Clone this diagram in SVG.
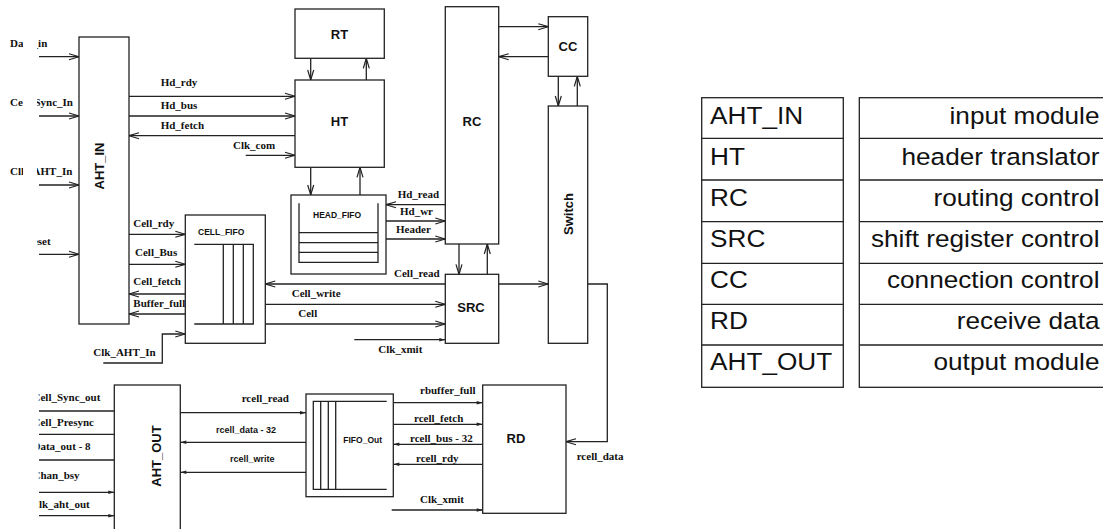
<svg xmlns="http://www.w3.org/2000/svg" width="1103" height="529" viewBox="0 0 1103 529">
<style>
.box{fill:#fff;stroke:#222;stroke-width:1.3}
.ln{fill:none;stroke:#222;stroke-width:1.3}
.oa{marker-end:url(#oa)}
.fa{marker-end:url(#fa)}
.t{font-family:"Liberation Serif","Times New Roman",serif;font-weight:bold;font-size:11px;fill:#111}
.n{font-family:"Liberation Sans",Arial,sans-serif;font-weight:bold;font-size:13px;fill:#111;text-anchor:middle}
.s{font-family:"Liberation Sans",Arial,sans-serif;font-weight:bold;font-size:8.5px;fill:#111}
.s9{font-family:"Liberation Sans",Arial,sans-serif;font-weight:bold;font-size:9px;fill:#111}
.tb{font-family:"Liberation Sans",Arial,sans-serif;font-size:23.3px;fill:#111}
.tr{text-anchor:end}
</style>
<defs>
<marker id="oa" markerUnits="userSpaceOnUse" markerWidth="13" markerHeight="9" refX="11.5" refY="4.5" orient="auto">
<path d="M1.5,1.5 L11.5,4.5 L1.5,7.5" fill="none" stroke="#222" stroke-width="1.2"/>
</marker>
<marker id="fa" markerUnits="userSpaceOnUse" markerWidth="8" markerHeight="6" refX="6.5" refY="3" orient="auto">
<path d="M0.5,1.2 L6.5,3 L0.5,4.8 Z" fill="#222"/>
</marker>
<clipPath id="lc">
<rect x="0" y="0" width="23" height="300"/>
<rect x="37" y="0" width="60" height="300"/>
<rect x="38.5" y="380" width="80" height="149"/>
</clipPath>
</defs>
<rect width="1103" height="529" fill="#fff"/>

<g id="connectors">
<path class="ln oa" d="M39,56.7 H79"/>
<path class="ln oa" d="M39,116 H79"/>
<path class="ln oa" d="M39,185 H79"/>
<path class="ln oa" d="M39,254.3 H79"/>
<path class="ln oa" d="M129,96.3 H295"/>
<path class="ln oa" d="M129,116 H295"/>
<path class="ln oa" d="M295,135.7 H129"/>
<path class="ln oa" d="M245.7,155.3 H295"/>
<path class="ln oa" d="M310.7,58.3 V80"/>
<path class="ln oa" d="M366.3,80 V58.3"/>
<path class="ln oa" d="M310.7,167.3 V195"/>
<path class="ln oa" d="M360,195 V167.3"/>
<path class="ln oa" d="M498.7,26.7 H548.3"/>
<path class="ln oa" d="M548.3,56.7 H498.7"/>
<path class="ln oa" d="M558.3,76.3 V106"/>
<path class="ln oa" d="M577.3,106 V76.3"/>
<path class="ln oa" d="M445.3,204.7 H386"/>
<path class="ln oa" d="M386,221 H445.3"/>
<path class="ln oa" d="M386,239 H445.3"/>
<path class="ln oa" d="M459,244 V274.3"/>
<path class="ln oa" d="M487.3,274.3 V244"/>
<path class="ln oa" d="M498.7,284 H548.3"/>
<path class="ln oa" d="M445.3,284 H265.3"/>
<path class="ln oa" d="M265.3,304.3 H445.3"/>
<path class="ln oa" d="M265.3,324 H445.3"/>
<path class="ln fa" d="M354.3,339.7 H445.3"/>
<path class="ln oa" d="M129,234.3 H185.3"/>
<path class="ln oa" d="M129,264.3 H185.3"/>
<path class="ln oa" d="M185.3,294 H129"/>
<path class="ln oa" d="M185.3,314 H129"/>
<path class="ln oa" d="M103.3,363 H162.3 V334 H185.3"/>
<path class="ln oa" d="M587.7,284 H607.3 V441.7 H566"/>
<path class="ln fa" d="M393.3,402.7 H482.7"/>
<path class="ln fa" d="M393.3,424.3 H482.7"/>
<path class="ln fa" d="M482.7,444.3 H393.3"/>
<path class="ln fa" d="M482.7,464.3 H393.3"/>
<path class="ln fa" d="M391.7,510 H482.7"/>
<path class="ln fa" d="M180.3,412.7 H306"/>
<path class="ln fa" d="M306,442.3 H180.3"/>
<path class="ln fa" d="M306,472.3 H180.3"/>
<path class="ln" d="M39,411 H114.3"/>
<path class="ln" d="M39,434.3 H114.3"/>
<path class="ln" d="M39,460 H114.3"/>
<path class="ln fa" d="M39,492.3 H114.3"/>
<path class="ln fa" d="M39,515.7 H114.3"/>

<g id="io-labels" clip-path="url(#lc)">
<text class="t" x="10" y="46.7">Data_in</text>
<text class="t" x="10" y="106">Cell_Sync_In</text>
<text class="t" x="10" y="175">Clk_AHT_In</text>
<text class="t" x="25" y="245">Reset</text>
<text class="t" x="32.5" y="400.7">Cell_Sync_out</text>
<text class="t" x="32.5" y="426">Cell_Presync</text>
<text class="t" x="32.5" y="450">Data_out - 8</text>
<text class="t" x="32.5" y="479.3">Chan_bsy</text>
<text class="t" x="31" y="508.3">Clk_aht_out</text>
</g>
<text class="t" x="160.7" y="85.7">Hd_rdy</text>
<text class="t" x="160.7" y="109.3">Hd_bus</text>
<text class="t" x="160.7" y="129.3">Hd_fetch</text>
<text class="t" x="233" y="149.3">Clk_com</text>
<text class="t" x="397.7" y="198.3">Hd_read</text>
<text class="t" x="400" y="215">Hd_wr</text>
<text class="t" x="396" y="233.3">Header</text>
<text class="t" x="394" y="277.3">Cell_read</text>
<text class="t" x="291.7" y="297.3">Cell_write</text>
<text class="t" x="298.3" y="317.3">Cell</text>
<text class="t" x="378.3" y="353.3">Clk_xmit</text>
<text class="t" x="133.3" y="226.7">Cell_rdy</text>
<text class="t" x="135" y="256">Cell_Bus</text>
<text class="t" x="133.3" y="285">Cell_fetch</text>
<text class="t" x="133.3" y="307.3">Buffer_full</text>
<text class="t" x="93.3" y="355.7">Clk_AHT_In</text>
<text class="t" x="420" y="394">rbuffer_full</text>
<text class="t" x="414" y="421.5">rcell_fetch</text>
<text class="t" x="410" y="442">rcell_bus - 32</text>
<text class="t" x="416" y="462">rcell_rdy</text>
<text class="t" x="420" y="503.3">Clk_xmit</text>
<text class="t" x="576.7" y="460">rcell_data</text>
<text class="t" x="241.7" y="402.3">rcell_read</text>
<text class="s9" x="216" y="432.7">rcell_data - 32</text>
<text class="s9" x="230" y="461.7">rcell_write</text>
</g>

<g id="AHT_IN">
<rect class="box" x="79" y="37" width="50" height="287"/>
<text class="n" transform="translate(104,166) rotate(-90)">AHT_IN</text>
</g>
<g id="RT">
<rect class="box" x="295" y="9" width="89.3" height="49.3"/>
<text class="n" x="339.5" y="39.3">RT</text>
</g>
<g id="HT">
<rect class="box" x="295" y="80" width="89.3" height="87.3"/>
<text class="n" x="339.5" y="126">HT</text>
</g>
<g id="RC">
<rect class="box" x="445.3" y="6.7" width="53.4" height="237.3"/>
<text class="n" x="472" y="126">RC</text>
</g>
<g id="CC">
<rect class="box" x="548.3" y="16.7" width="39.4" height="59.6"/>
<text class="n" x="568" y="51">CC</text>
</g>
<g id="Switch">
<rect class="box" x="548.3" y="106" width="39.4" height="237.3"/>
<text class="n" transform="translate(573,214) rotate(-90)">Switch</text>
</g>
<g id="HEAD_FIFO">
<rect class="box" x="291" y="195" width="95" height="79"/>
<path class="ln" d="M299,203.3 V262.3 H378 V203.3 M299,232.7 H378 M299,242.7 H378 M299,252.3 H378"/>
<text class="s" x="313" y="218.3">HEAD_FIFO</text>
</g>
<g id="SRC">
<rect class="box" x="445.3" y="274.3" width="53.4" height="69"/>
<text class="n" x="471" y="311.7">SRC</text>
</g>
<g id="CELL_FIFO">
<rect class="box" x="185.3" y="215" width="80" height="128.3"/>
<path class="ln" d="M194.3,244.3 H253.3 V324 H194.3 M223.3,244.3 V324 M233.3,244.3 V324 M243.3,244.3 V324"/>
<text class="s" x="198" y="235">CELL_FIFO</text>
</g>
<g id="AHT_OUT">
<rect class="box" x="114.3" y="385" width="66" height="150"/>
<text class="n" transform="translate(161,456) rotate(-90)">AHT_OUT</text>
</g>
<g id="FIFO_Out">
<rect class="box" x="306" y="394" width="87.3" height="102.7"/>
<path class="ln" d="M386.7,401.3 H313.3 V489.3 H386.7 M320.7,401.3 V489.3 M328.3,401.3 V489.3 M335.7,401.3 V489.3"/>
<text class="s" x="343.3" y="442.7">FIFO_Out</text>
</g>
<g id="RD">
<rect class="box" x="482.7" y="385" width="83.3" height="128.3"/>
<text class="n" x="516" y="443.3">RD</text>
</g>

<g id="legend">
<rect class="box" x="701.7" y="97.7" width="141.6" height="289.6"/>
<rect class="box" x="859.3" y="97.7" width="260" height="289.6"/>
<path class="ln" d="M701.7,138.3 H843.3 M701.7,180 H843.3 M701.7,221.7 H843.3 M701.7,263.3 H843.3 M701.7,304.3 H843.3 M701.7,345 H843.3"/>
<path class="ln" d="M859.3,138.3 H1110 M859.3,180 H1110 M859.3,221.7 H1110 M859.3,263.3 H1110 M859.3,304.3 H1110 M859.3,345 H1110"/>
<text class="tb" transform="translate(710,124.3) scale(1.125,1)">AHT_IN</text>
<text class="tb" transform="translate(710,165) scale(1.125,1)">HT</text>
<text class="tb" transform="translate(710,205.7) scale(1.125,1)">RC</text>
<text class="tb" transform="translate(710,247.3) scale(1.125,1)">SRC</text>
<text class="tb" transform="translate(710,288.3) scale(1.125,1)">CC</text>
<text class="tb" transform="translate(710,329) scale(1.125,1)">RD</text>
<text class="tb" transform="translate(710,370) scale(1.125,1)">AHT_OUT</text>
<text class="tb tr" transform="translate(1099.5,124.3) scale(1.125,1)">input module</text>
<text class="tb tr" transform="translate(1099.5,165) scale(1.125,1)">header translator</text>
<text class="tb tr" transform="translate(1099.5,205.7) scale(1.125,1)">routing control</text>
<text class="tb tr" transform="translate(1099.5,247.3) scale(1.125,1)">shift register control</text>
<text class="tb tr" transform="translate(1099.5,288.3) scale(1.125,1)">connection control</text>
<text class="tb tr" transform="translate(1099.5,329) scale(1.125,1)">receive data</text>
<text class="tb tr" transform="translate(1099.5,370) scale(1.125,1)">output module</text>
</g>
</svg>
